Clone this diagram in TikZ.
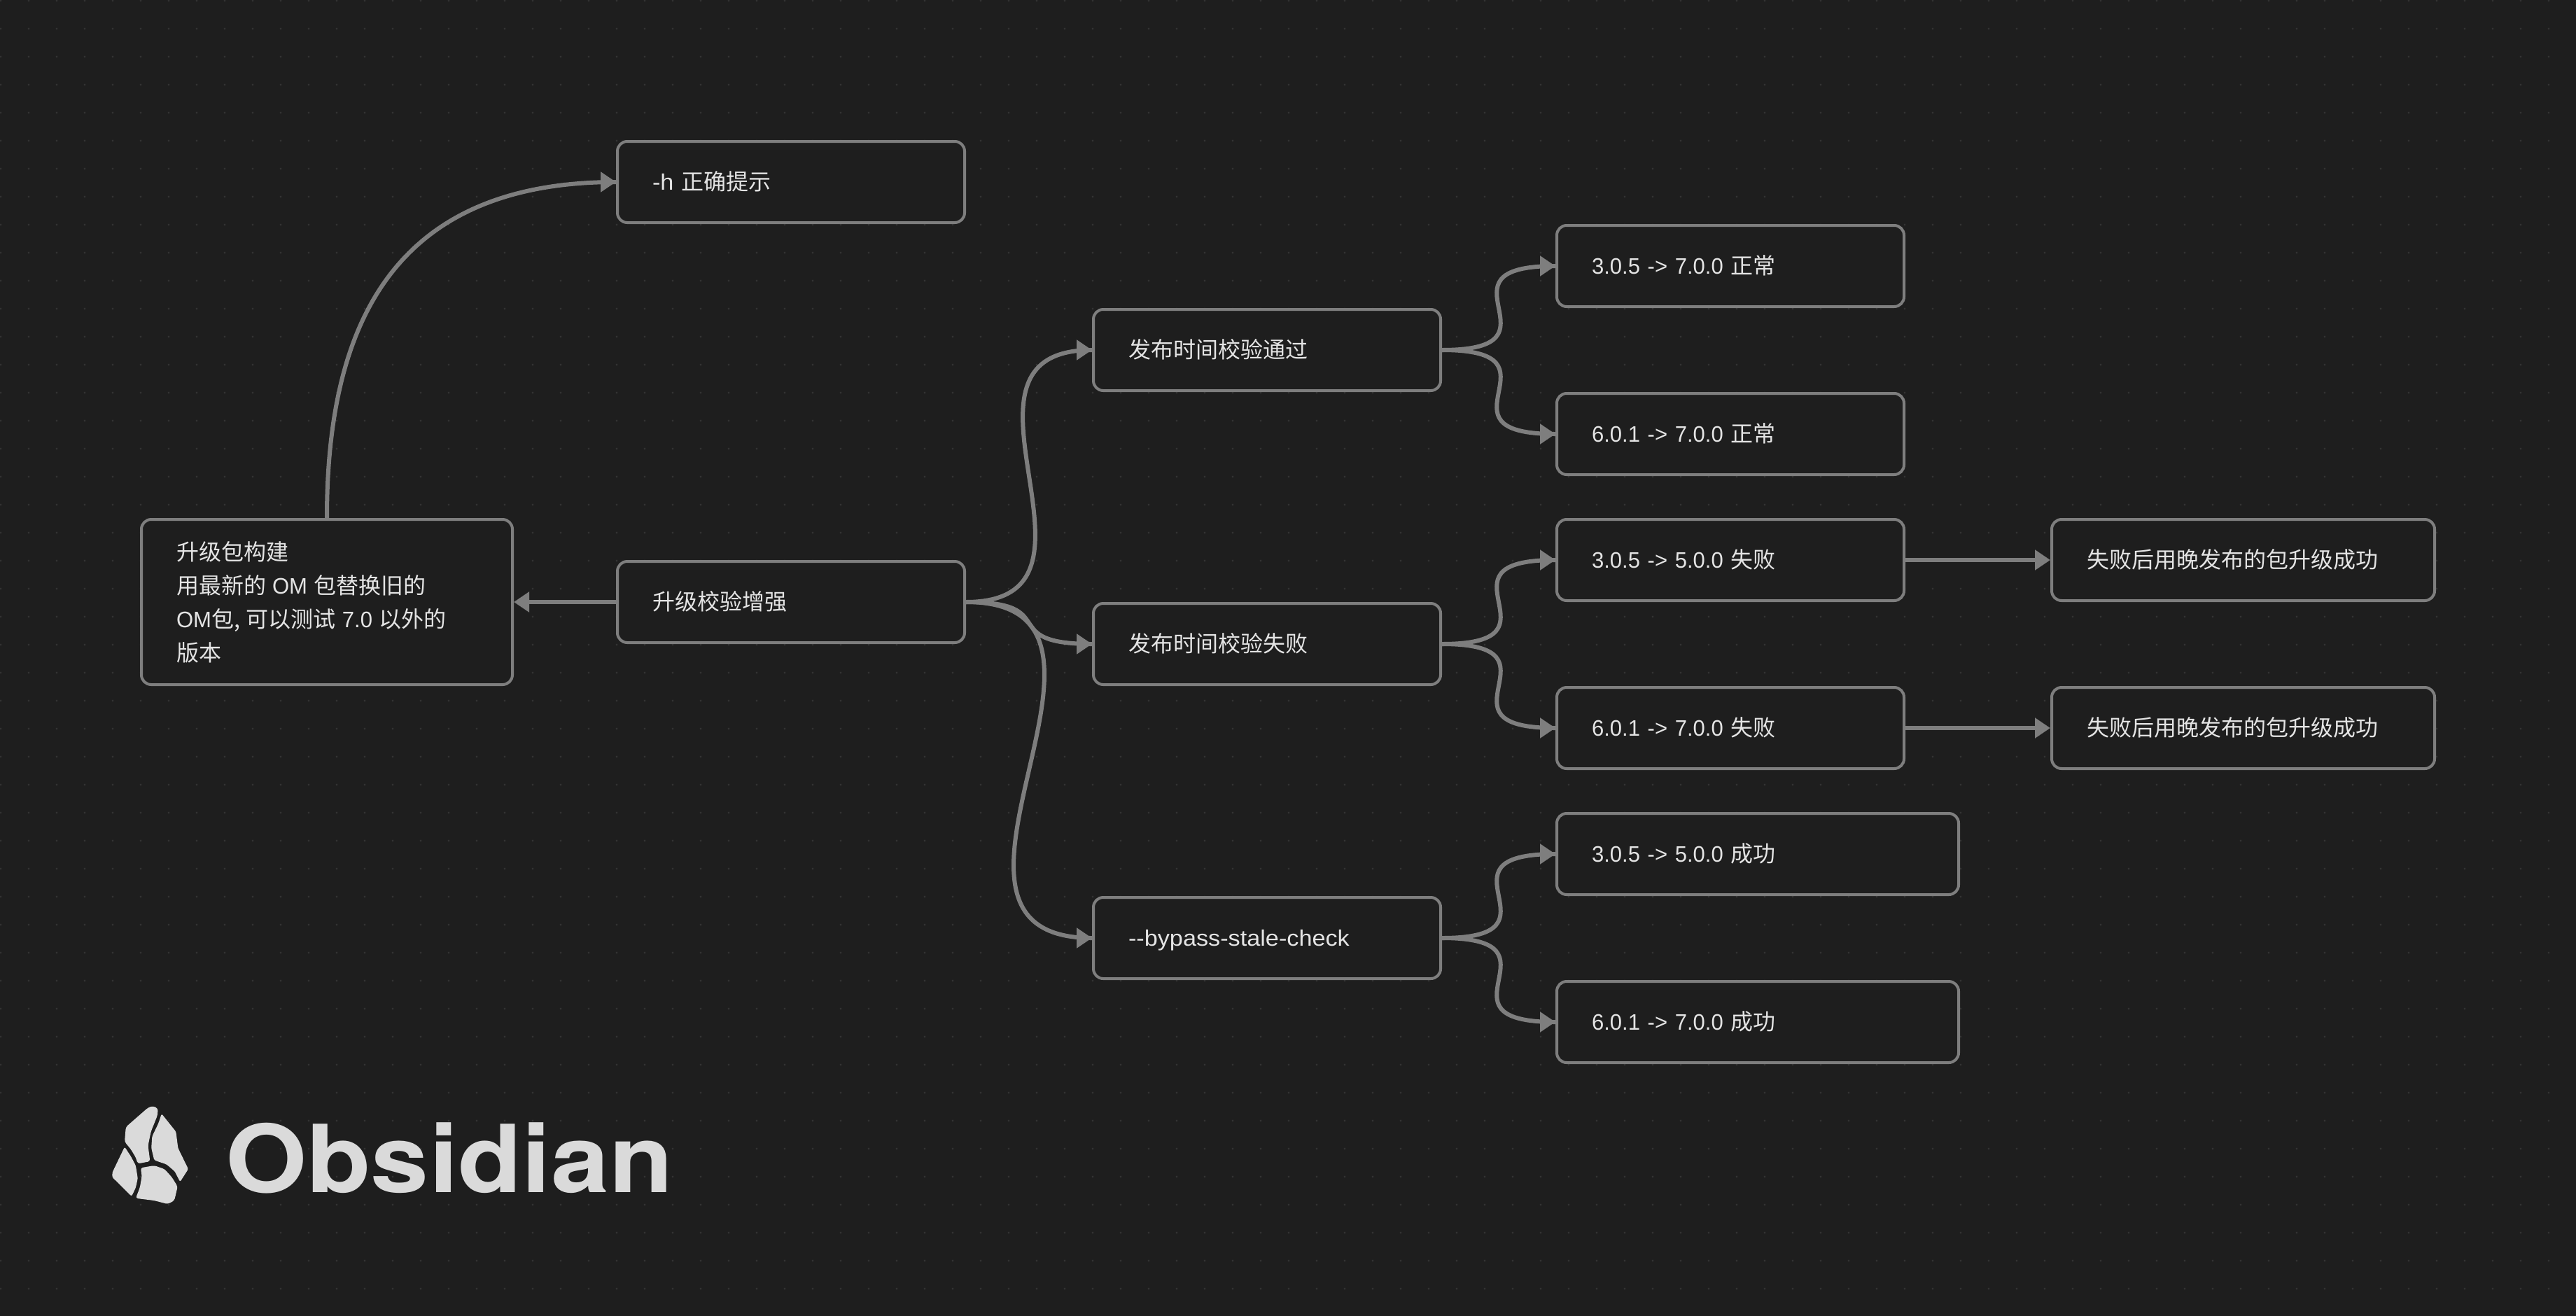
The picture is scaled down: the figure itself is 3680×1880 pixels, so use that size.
\documentclass[tikz,border=0pt]{standalone}
\usepackage{fontspec}
\setmainfont{Liberation Sans}[FakeStretch=0.97]
\newfontfamily\cjk{Noto Sans CJK SC}
\newfontfamily\wide{Liberation Sans}[FakeStretch=1.07]
\newfontfamily\logofont{TeX Gyre Heros}[BoldFont=*-Bold]
\usetikzlibrary{arrows.meta}
\definecolor{bg}{HTML}{1E1E1E}
\definecolor{griddot}{HTML}{333333}
\definecolor{linec}{HTML}{7E7E7E}
\definecolor{txt}{HTML}{E4E4E4}
\definecolor{logoc}{HTML}{DADADA}
\newcommand\nsp{\hspace{4.5pt}}
% curved connector: the curve runs to the node, the tip sits on its end
\newcommand\curvelink[3]{%
  \draw[linkline] (#1.east) .. controls +(#3,0) and +(-#3,0) .. (#2.west);
  \draw[link] ([xshift=-11pt]#2.west) -- (#2.west);}
\tikzset{
  cardbox/.style={draw=linec,fill=bg,line width=2pt,rounded corners=7pt,text=txt,
    inner xsep=25pt,inner ysep=0pt,minimum height=58pt,text width=#1,align=left,
    font=\fontsize{16pt}{24pt}\selectfont},
  oneline/.style={cardbox=#1,text height=14pt,text depth=2.3pt},
  linkline/.style={draw=linec,line width=3pt},
  link/.style={linkline,-{Triangle[length=11pt,width=14pt]}},
}
\begin{document}
\begin{tikzpicture}[x=0.5pt,y=-0.5pt]
\useasboundingbox (0,0) rectangle (3680,1880);
\fill[bg] (0,0) rectangle (3680,1880);
\foreach \i in {0,...,91}{\foreach \j in {0,...,46}{\fill[griddot] ({1+40*\i},{1+40*\j}) circle (0.8pt);}}
% level 0
\node[cardbox=215pt,minimum height=118pt] (build) at (467,860) {{\cjk 升级包构建}\\{\cjk 用最新的}\nsp OM\nsp{\cjk 包替换旧的}\\OM{\cjk 包,}\nsp{\cjk 可以测试}\nsp 7.0\nsp{\cjk 以外的}\\{\cjk 版本}};
\node[oneline=198pt] (help) at (1130,260) {{\wide -h} {\cjk 正确提示}};
\node[oneline=198pt] (root) at (1130,860) {{\cjk 升级校验增强}};
% level 1
\node[oneline=198pt] (pass) at (1810,500) {{\cjk 发布时间校验通过}};
\node[oneline=198pt] (fail) at (1810,920) {{\cjk 发布时间校验失败}};
\node[oneline=198pt] (bypass) at (1810,1340) {{\wide -{}-bypass-stale-check}};
% level 2
\node[oneline=198pt] (p1) at (2472,380) {3.0.5 -> 7.0.0 {\cjk 正常}};
\node[oneline=198pt] (p2) at (2472,620) {6.0.1 -> 7.0.0 {\cjk 正常}};
\node[oneline=198pt] (f1) at (2472,800) {3.0.5 -> 5.0.0 {\cjk 失败}};
\node[oneline=198pt] (f2) at (2472,1040) {6.0.1 -> 7.0.0 {\cjk 失败}};
\node[oneline=237pt] (b1) at (2511,1220) {3.0.5 -> 5.0.0 {\cjk 成功}};
\node[oneline=237pt] (b2) at (2511,1460) {6.0.1 -> 7.0.0 {\cjk 成功}};
% level 3
\node[oneline=223.5pt] (r1) at (3204.5,800) {{\cjk 失败后用晚发布的包升级成功}};
\node[oneline=223.5pt] (r2) at (3204.5,1040) {{\cjk 失败后用晚发布的包升级成功}};
% connectors
\draw[linkline] (build.north) .. controls +(0,-300) and +(-300,0) .. (help.west);
\draw[link] ([xshift=-11pt]help.west) -- (help.west);
\draw[link] (root.west) -- (build.east);
\curvelink{root}{pass}{235}
\curvelink{root}{fail}{140}
\curvelink{root}{bypass}{290}
\curvelink{pass}{p1}{185}
\curvelink{pass}{p2}{185}
\curvelink{fail}{f1}{185}
\curvelink{fail}{f2}{185}
\curvelink{bypass}{b1}{185}
\curvelink{bypass}{b2}{185}
\draw[link] (f1.east) -- (r1.west);
\draw[link] (f2.east) -- (r2.west);
% logo mark
\begin{scope}[shift={(50pt,-750pt)},x=0.2934pt,y=-0.1667pt]
\fill[logoc,rounded corners=1.6pt] (202,240) -- (214,250) -- (213,280) -- (197,350) -- (190,410) -- (195,477) -- (165,487) -- (160,460) -- (148,425) -- (133,393) -- (136,330) -- (190,247) -- cycle;
\fill[logoc,rounded corners=1.2pt] (223,273) -- (258,350) -- (263,420) -- (288,510) -- (268,565) -- (255,520) -- (235,490) -- (205,472) -- (198,420) -- (200,370) -- (215,315) -- cycle;
\fill[logoc,rounded corners=1.2pt] (133,415) -- (148,455) -- (160,495) -- (165,550) -- (160,590) -- (150,627) -- (103,545) -- (103,525) -- cycle;
\fill[logoc,rounded corners=1.6pt] (172,505) -- (205,495) -- (230,510) -- (248,545) -- (262,585) -- (254,645) -- (238,660) -- (205,645) -- (160,635) -- (170,590) -- (175,540) -- cycle;
\end{scope}
\node[anchor=base west,inner sep=0pt,text=logoc,xscale=1.115,font=\logofont\bfseries\fontsize{67pt}{67pt}\selectfont] (wordmark) at (322,1703) {Obsidian};
\end{tikzpicture}
\end{document}
